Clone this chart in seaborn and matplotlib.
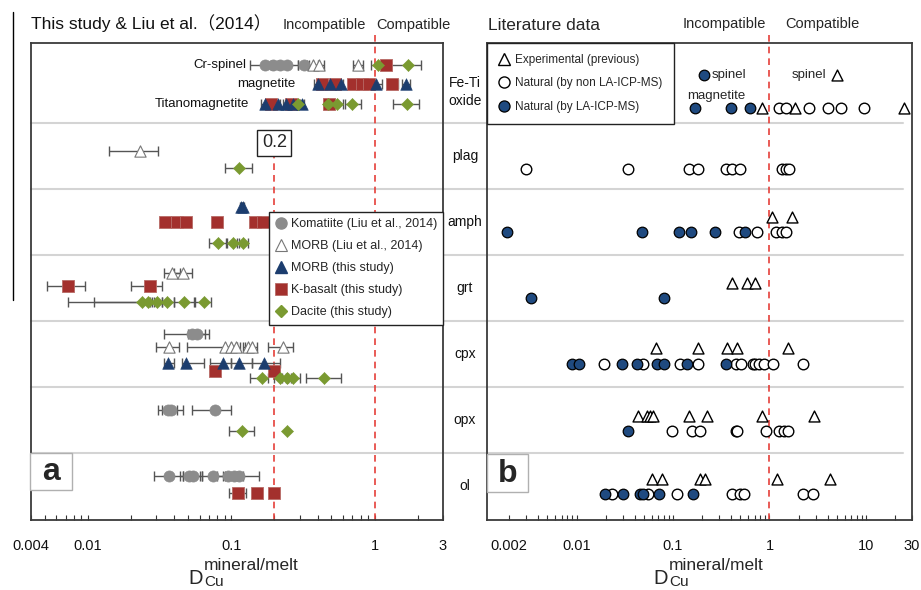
import numpy as np
import pandas as pd
import matplotlib
matplotlib.use("Agg")
import matplotlib.pyplot as plt
import matplotlib.transforms as mtrans
from matplotlib.lines import Line2D
from matplotlib.patches import Rectangle
from matplotlib.ticker import FixedLocator, NullFormatter, LogLocator
import seaborn as sns

sns.set_theme(style="white")
plt.rcParams["font.family"] = ["Liberation Sans", "Noto Sans CJK SC", "DejaVu Sans"]

nan = np.nan

# ---------------- DATA : panel a (this study & Liu et al. 2014) ----------------
kom_phase = ["Cr-spinel"] * 5 + ["cpx"] * 2 + ["opx"] * 3 + ["ol"] * 7
kom_D = [0.173, 0.194, 0.22, 0.246, 0.32, 0.053, 0.058, 0.036, 0.038, 0.077,
         0.037, 0.051, 0.054, 0.074, 0.095, 0.104, 0.114]
kom_lo = [0.136, 0.17, 0.19, 0.21, 0.29, 0.034, 0.05, 0.031, 0.033, 0.053,
          0.029, 0.044, 0.046, 0.062, 0.08, 0.09, 0.095]
kom_hi = [0.20, 0.22, 0.25, 0.29, 0.35, 0.066, 0.07, 0.042, 0.046, 0.10,
          0.046, 0.06, 0.062, 0.088, 0.11, 0.12, 0.155]

ml_phase = ["Cr-spinel"] * 3 + ["plag"] + ["grt"] * 2 + ["cpx"] * 7
ml_D = [0.37, 0.41, 0.77, 0.023, 0.0386, 0.046, 0.037, 0.091, 0.10, 0.108, 0.13, 0.14, 0.23]
ml_lo = [0.34, 0.37, 0.71, 0.014, 0.034, 0.040, 0.030, 0.049, 0.09, 0.10, 0.12, 0.125, 0.18]
ml_hi = [0.40, 0.44, 0.83, 0.031, 0.044, 0.053, 0.043, 0.10, 0.11, 0.115, 0.14, 0.15, 0.27]

mt_phase = ["magnetite"] * 5 + ["Titanomagnetite"] * 5 + ["amph"] * 2 + ["cpx"] * 5
mt_D = [0.40, 0.49, 0.58, 1.02, 1.65, 0.173, 0.21, 0.24, 0.27, 0.31, 0.117, 0.121,
        0.036, 0.048, 0.087, 0.114, 0.17]
mt_lo = [0.375, 0.47, 0.56, 0.97, 1.55, 0.16, 0.20, 0.23, 0.26, 0.30, 0.115, 0.119,
         0.034, 0.045, 0.071, 0.10, 0.14]
mt_hi = [0.42, 0.51, 0.60, 1.12, 1.77, 0.18, 0.22, 0.25, 0.28, 0.32, 0.119, 0.123,
         0.040, 0.064, 0.10, 0.14, 0.22]

kb_phase = (["Cr-spinel"] + ["magnetite"] * 6 + ["Titanomagnetite"] * 3 + ["amph"] * 6
            + ["grt"] * 2 + ["cpx"] * 2 + ["ol"] * 3)
kb_D = [1.21, 0.43, 0.53, 0.71, 0.82, 0.91, 1.33, 0.19, 0.26, 0.48,
        0.0345, 0.042, 0.048, 0.08, 0.147, 0.167, 0.0073, 0.027, 0.077, 0.197, 0.112, 0.152, 0.20]
kb_lo = [1.15, 0.41, 0.51, 0.69, 0.80, 0.89, 1.25, 0.18, 0.25, 0.45,
         nan, nan, nan, nan, nan, nan, 0.0052, 0.020, nan, nan, 0.097, nan, nan]
kb_hi = [1.27, 0.45, 0.55, 0.73, 0.84, 0.93, 1.45, 0.20, 0.27, 0.52,
         nan, nan, nan, nan, nan, nan, 0.0095, 0.033, nan, nan, 0.126, nan, nan]

dc_phase = (["Cr-spinel"] * 2 + ["Titanomagnetite"] * 5 + ["plag"] + ["amph"] * 3
            + ["grt"] * 6 + ["cpx"] * 5 + ["opx"] * 2)
dc_D = [1.05, 1.70, 0.29, 0.47, 0.55, 0.70, 1.67, 0.114, 0.081, 0.103, 0.121,
        0.0239, 0.0263, 0.0304, 0.0357, 0.047, 0.064, 0.165, 0.22, 0.245, 0.27, 0.44, 0.119, 0.246]
dc_lo = [0.95, 1.30, 0.27, 0.44, 0.50, 0.62, 1.35, 0.09, 0.07, 0.093, 0.11,
         0.0072, 0.011, 0.028, 0.033, 0.040, 0.056, 0.134, 0.20, 0.225, 0.25, 0.33, 0.097, nan]
dc_hi = [1.15, 2.10, 0.31, 0.52, 0.60, 0.80, 2.05, 0.14, 0.092, 0.113, 0.13,
         0.027, 0.029, 0.033, 0.040, 0.055, 0.072, 0.18, 0.24, 0.26, 0.30, 0.58, 0.145, nan]

# ---------------- DATA : panel b (literature) ----------------
exp_phase = (["spinel"] + ["magnetite"] * 3 + ["amph"] * 2 + ["grt"] * 3 + ["cpx"] * 5
             + ["opx"] * 8 + ["ol"] * 6)
exp_D = [5.0, 0.83, 1.86, 24.6, 1.07, 1.73, 0.41, 0.59, 0.70,
         0.067, 0.183, 0.366, 0.465, 1.54,
         0.043, 0.054, 0.058, 0.062, 0.148, 0.227, 0.846, 2.87,
         0.061, 0.076, 0.19, 0.216, 1.21, 4.2]

non_phase = (["magnetite"] * 6 + ["plag"] * 10 + ["amph"] * 5 + ["cpx"] * 12
             + ["opx"] * 9 + ["ol"] * 8)
non_D = [1.24, 1.47, 2.54, 4.0, 5.5, 9.5,
         0.003, 0.034, 0.145, 0.18, 0.35, 0.41, 0.49, 1.36, 1.47, 1.58,
         0.48, 0.75, 1.18, 1.36, 1.47,
         0.0194, 0.049, 0.119, 0.18, 0.45, 0.51, 0.67, 0.70, 0.77, 0.87, 1.10, 2.2,
         0.098, 0.159, 0.192, 0.45, 0.465, 0.93, 1.24, 1.43, 1.54,
         0.0235, 0.055, 0.111, 0.41, 0.50, 0.55, 2.25, 2.8]

la_phase = (["spinel"] + ["magnetite"] * 3 + ["amph"] * 6 + ["grt"] * 2 + ["cpx"] * 8
            + ["opx"] + ["ol"] * 6)
la_D = [0.207, 0.17, 0.40, 0.635,
        0.0019, 0.048, 0.116, 0.155, 0.27, 0.56,
        0.0034, 0.08,
        0.0089, 0.0107, 0.0296, 0.0426, 0.069, 0.081, 0.141, 0.358,
        0.034,
        0.0198, 0.0306, 0.046, 0.049, 0.072, 0.163]

row_labels = ["ol", "opx", "cpx", "grt", "amph", "plag", "Fe-Ti\noxide"]

# ---------------- layout (vertical placement of sub-rows) ----------------
SUB_A = {
    "Cr-spinel": {"kom": 6.38, "ml": 6.38, "kb": 6.38, "dc": 6.38},
    "magnetite": {"mt": 6.09, "kb": 6.09},
    "Titanomagnetite": {"mt": 5.79, "kb": 5.79, "dc": 5.79},
    "plag": {"ml": 5.08, "dc": 4.82},
    "amph": {"mt": 4.23, "kb": 4.00, "dc": 3.68},
    "grt": {"ml": 3.23, "kb": 3.03, "dc": 2.79},
    "cpx": {"kom": 2.30, "ml": 2.11, "mt": 1.86, "kb": 1.75, "dc": 1.64},
    "opx": {"kom": 1.15, "dc": 0.83},
    "ol": {"kom": 0.15, "kb": -0.11},
}
SUB_B = {  # (triangle row, circle row)
    "spinel": (6.23, 6.23), "magnetite": (5.73, 5.73), "plag": (5.08, 4.80),
    "amph": (4.08, 3.85), "grt": (3.08, 2.85), "cpx": (2.09, 1.85),
    "opx": (1.06, 0.83), "ol": (0.11, -0.12),
}

W, H = 921, 590
fig = plt.figure(figsize=(W / 100, H / 100), dpi=100)


def pax(x0, y0, x1, y1):
    return fig.add_axes([x0 / W, 1 - y1 / H, (x1 - x0) / W, (y1 - y0) / H])


axL = pax(31, 43, 443, 520)
axR = pax(487, 43, 912, 520)
Y0, YPX = 486.0, 66.0
ylim = ((Y0 - 520) / YPX, (Y0 - 43) / YPX)


def ypx(p):
    return (Y0 - p) / YPX


GRAY, BLUE, RED, GREEN = "#8c8c8c", "#1c3d6e", "#a3302d", "#7a9a31"
series = [
    ("kom", kom_phase, kom_D, kom_lo, kom_hi, "o", 64, GRAY, GRAY, 0.5),
    ("ml", ml_phase, ml_D, ml_lo, ml_hi, "^", 66, "white", "#777777", 0.8),
    ("kb", kb_phase, kb_D, kb_lo, kb_hi, "s", 64, RED, "#b86a66", 0.6),
    ("mt", mt_phase, mt_D, mt_lo, mt_hi, "^", 70, BLUE, BLUE, 0.4),
    ("dc", dc_phase, dc_D, dc_lo, dc_hi, "D", 38, GREEN, GREEN, 0.4),
]

for key, ph, D, lo, hi, mk, s, fc, ec, lw in series:
    df = pd.DataFrame({"phase": ph, "D": D, "lo": lo, "hi": hi})
    df["y"] = [SUB_A[p][key] for p in df["phase"]]
    e = df.dropna(subset=["lo", "hi"])
    axL.errorbar(e["D"], e["y"], xerr=[e["D"] - e["lo"], e["hi"] - e["D"]], fmt="none",
                 ecolor="#555555", elinewidth=1.0, capsize=3.3, capthick=1.0, zorder=2)
    sns.scatterplot(data=df, x="D", y="y", ax=axL, marker=mk, s=s, color=fc,
                    edgecolor=ec, linewidth=lw, zorder=3, legend=False)

# panel b
for ph, D, kind in [(non_phase, non_D, "non"), (la_phase, la_D, "la"), (exp_phase, exp_D, "exp")]:
    df = pd.DataFrame({"phase": ph, "D": D})
    idx = 0 if kind == "exp" else 1
    df["y"] = [SUB_B[p][idx] for p in df["phase"]]
    if kind == "exp":
        sns.scatterplot(data=df, x="D", y="y", ax=axR, marker="^", s=62, color="white",
                        edgecolor="black", linewidth=1.0, zorder=3, legend=False)
    elif kind == "non":
        sns.scatterplot(data=df, x="D", y="y", ax=axR, marker="o", s=58, color="white",
                        edgecolor="black", linewidth=1.0, zorder=3, legend=False)
    else:
        sns.scatterplot(data=df, x="D", y="y", ax=axR, marker="o", s=58, color="#1f4a80",
                        edgecolor="black", linewidth=0.9, zorder=4, legend=False)

# axes styling
for ax, xl, ticks, labels in [
    (axL, (0.004, 3), [0.004, 0.01, 0.1, 1, 3], ["0.004", "0.01", "0.1", "1", "3"]),
    (axR, (0.00118, 30), [0.002, 0.01, 0.1, 1, 10, 30], ["0.002", "0.01", "0.1", "1", "10", "30"]),
]:
    ax.set_xscale("log")
    ax.set_xlim(*xl)
    ax.set_ylim(*ylim)
    ax.xaxis.set_major_locator(FixedLocator(ticks))
    ax.set_xticklabels(labels)
    ax.xaxis.set_minor_locator(LogLocator(base=10, subs=np.arange(2, 10)))
    ax.xaxis.set_minor_formatter(NullFormatter())
    ax.tick_params(axis="x", which="both", direction="in", length=3.5, width=0.8,
                   color="#333333", bottom=True, top=False, labelsize=10.5, pad=14,
                   labelcolor="#111111")
    ax.set_yticks([])
    ax.set_xlabel("")
    ax.set_ylabel("")
    for sp in ax.spines.values():
        sp.set_color("#3a3a3a")
        sp.set_linewidth(1.3)

# row separators
for k in range(6):
    yv = k + 0.5
    axL.plot([0, (487 - 31) / 412], [yv, yv], color="#d4d4d4", lw=1.5, clip_on=False,
             zorder=0.5, transform=mtrans.blended_transform_factory(axL.transAxes, axL.transData))
    axR.plot([0, (903 - 487) / 425], [yv, yv], color="#d4d4d4", lw=1.5, clip_on=False,
             zorder=0.5, transform=mtrans.blended_transform_factory(axR.transAxes, axR.transData))

# dashed reference lines
RL = "#e5403a"
axL.plot([1, 1], [ylim[0], ypx(30)], color=RL, ls=(0, (4, 3)), lw=1.2, clip_on=False, zorder=1)
axL.plot([0.2, 0.2], [ylim[0], ypx(157)], color=RL, ls=(0, (4, 3)), lw=1.2, clip_on=False, zorder=1)
axR.plot([1, 1], [ylim[0], ypx(30)], color=RL, ls=(0, (4, 3)), lw=1.2, clip_on=False, zorder=1)
axL.text(0.2, ypx(143), "0.2", ha="center", va="center", fontsize=13, zorder=6,
         bbox=dict(boxstyle="square,pad=0.25", fc="white", ec="#222222", lw=1.0))

# sub-row labels in panel a
tL = mtrans.blended_transform_factory(fig.transFigure, axL.transData)
for txt, xr, yp in [("Cr-spinel", 246, 65), ("magnetite", 295, 84), ("Titanomagnetite", 249, 104)]:
    axL.text(xr / W, ypx(yp), txt, transform=tL, ha="right", va="center", fontsize=9.5,
             color="#111111")

# row labels between panels
for k, lab in enumerate(row_labels):
    yv = ypx(92) if k == 6 else k
    axL.text(465 / W, yv, lab, transform=tL, ha="center", va="center", fontsize=10,
             linespacing=1.4, color="#111111")

# panel b annotations
tR = mtrans.blended_transform_factory(fig.transFigure, axR.transData)
axR.text(712 / W, ypx(75), "spinel", transform=tR, ha="left", va="center", fontsize=9.5)
axR.text(792 / W, ypx(75), "spinel", transform=tR, ha="left", va="center", fontsize=9.5)
axR.text(716 / W, ypx(96), "magnetite", transform=tR, ha="center", va="center", fontsize=9.5)

# legends
hL = [
    Line2D([], [], ls="none", marker="o", ms=8, mfc=GRAY, mec=GRAY),
    Line2D([], [], ls="none", marker="^", ms=8, mfc="white", mec="#777777", mew=0.8),
    Line2D([], [], ls="none", marker="^", ms=8, mfc=BLUE, mec=BLUE),
    Line2D([], [], ls="none", marker="s", ms=8, mfc=RED, mec="#b86a66", mew=0.6),
    Line2D([], [], ls="none", marker="D", ms=6, mfc=GREEN, mec=GREEN),
]
lL = ["Komatiite (Liu et al., 2014)", "MORB (Liu et al., 2014)", "MORB (this study)",
      "K-basalt (this study)", "Dacite (this study)"]
legL = axL.legend(hL, lL, loc="upper right", bbox_to_anchor=(1.0, (520 - 212) / 477),
                  borderaxespad=0, frameon=True, fancybox=False, edgecolor="#222222",
                  framealpha=1, fontsize=9, handletextpad=0.3, handlelength=0.9,
                  labelspacing=0.8, borderpad=0.5)
legL.get_frame().set_linewidth(1.0)
legL.set_zorder(7)

hR = [
    Line2D([], [], ls="none", marker="^", ms=8, mfc="white", mec="black", mew=1.0),
    Line2D([], [], ls="none", marker="o", ms=8, mfc="white", mec="black", mew=1.0),
    Line2D([], [], ls="none", marker="o", ms=8, mfc="#1f4a80", mec="black", mew=0.9),
]
lR = ["Experimental (previous)", "Natural (by non LA-ICP-MS)", "Natural (by LA-ICP-MS)"]
legR = axR.legend(hR, lR, loc="upper left", bbox_to_anchor=(0, 1), borderaxespad=0,
                  frameon=True, fancybox=False, edgecolor="#222222", framealpha=1,
                  fontsize=8.5, handletextpad=0.45, handlelength=1.0, labelspacing=0.95,
                  borderpad=0.95)
legR.get_frame().set_linewidth(1.0)
legR.set_zorder(7)

# titles / headers
fig.text(31 / W, 1 - 23 / H, "This study & Liu et al.（2014）", fontsize=12.5, va="center",
         ha="left", color="#111111")
fig.text(366 / W, 1 - 25 / H, "Incompatible", fontsize=10.5, va="center", ha="right")
fig.text(376 / W, 1 - 25 / H, "Compatible", fontsize=10.5, va="center", ha="left")
fig.text(488 / W, 1 - 26 / H, "Literature data", fontsize=12.5, va="center", ha="left")
fig.text(766 / W, 1 - 24 / H, "Incompatible", fontsize=10.5, va="center", ha="right")
fig.text(785 / W, 1 - 24 / H, "Compatible", fontsize=10.5, va="center", ha="left")

# panel letters
for (x0, y0, x1, y1), letter in [((30, 453, 72, 490), "a"), ((487, 454, 528, 492), "b")]:
    fig.add_artist(Rectangle((x0 / W, 1 - y1 / H), (x1 - x0) / W, (y1 - y0) / H,
                             transform=fig.transFigure, fc="white", ec="#b0b0b0", lw=1.0,
                             zorder=8))
    fig.text((x0 + x1) / 2 / W, 1 - ((y0 + y1) / 2 + 1) / H, letter, fontsize=23,
             fontweight="bold", ha="center", va="center", zorder=9)

# x-axis labels  D_Cu^(mineral/melt)
for xD in (188, 653):
    fig.text(xD / W, 1 - 588 / H, "D", fontsize=14.5, ha="left", va="bottom")
    fig.text((xD + 16) / W, 1 - 573 / H, "mineral/melt", fontsize=12.5, ha="left", va="bottom")
    fig.text((xD + 16) / W, 1 - 589 / H, "Cu", fontsize=11, ha="left", va="bottom")

# scan artifact vertical line at far left
fig.add_artist(Line2D([13 / W, 13 / W], [1 - 12 / H, 1 - 300 / H], color="black", lw=1.0))

fig.savefig("out.png", dpi=100)
